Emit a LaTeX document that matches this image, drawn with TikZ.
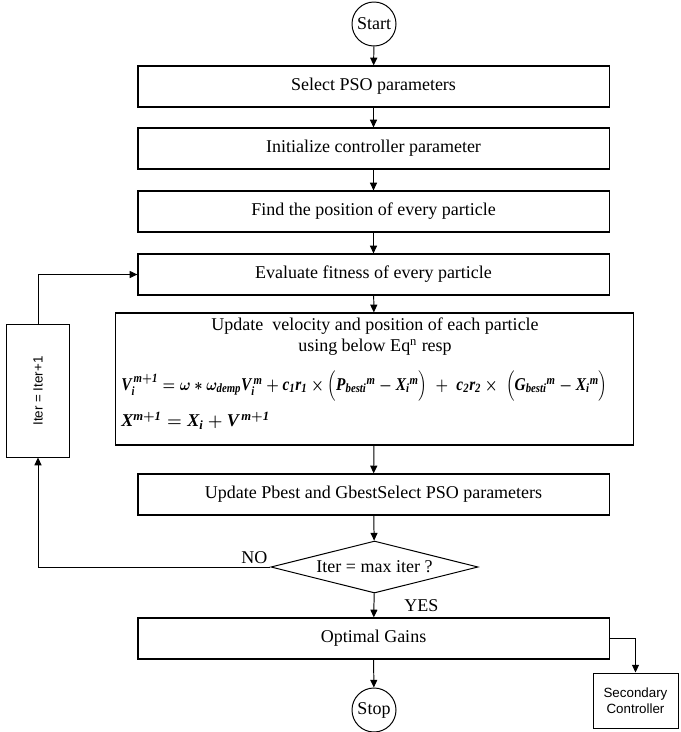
\documentclass[tikz,border=0pt]{standalone}
\usepackage{amsmath}
\usepackage{fontspec}
\setmainfont{Liberation Serif}
\newfontfamily\arialfont{Liberation Sans}
\newfontfamily\eqfamily{Liberation Serif}[NFSSFamily=libser]
\DeclareMathAlphabet{\mathbi}{TU}{libser}{bx}{it}
\usetikzlibrary{arrows.meta,shapes.geometric,calc}

\begin{document}
\begin{tikzpicture}[
    x=0.025cm, y=-0.025cm,
    font=\fontsize{12.8}{15}\selectfont,
    >={Triangle[length=5.5pt,width=5pt]},
    proc/.style={draw, line width=0.8pt, minimum width=11.775cm, minimum height=1.025cm, inner sep=2pt},
    term/.style={draw, circle, line width=0.7pt, minimum size=1.1cm, inner sep=0pt},
    dec/.style={draw, diamond, aspect=4, line width=0.7pt, minimum width=5.175cm, minimum height=1.3cm, inner sep=0pt},
    side/.style={draw, line width=0.7pt, font=\arialfont\fontsize{9.5}{11.5}\selectfont, align=center},
    flow/.style={->, line width=0.7pt}
  ]
  \useasboundingbox (0,0) rectangle (680,732);

  % Inicio y pasos principales
  \node[term] (start) at (374, 24) {Start};
  \node[proc] (sel)  at (373.5, 86.5)  {Select PSO parameters};
  \node[proc] (init) at (373.5, 148.5) {Initialize controller parameter};
  \node[proc] (find) at (373.5, 211.5) {Find the position of every particle};
  \node[proc] (eval) at (373.5, 274.5) {Evaluate fitness of every particle};

  % Bloque de actualizacion con ecuaciones
  \node[proc, minimum width=12.925cm, minimum height=3.3cm] (upd) at (374.5, 379) {};
  \node[align=center, inner sep=0pt] (updtxt) at (375, 337) {
    Update\ \ velocity and position of each particle\\
    using below Eq\textsuperscript{n} resp
  };
  \node[anchor=west, inner sep=0pt] (eqv) at (121, 386) {\resizebox{12.15cm}{\height}{\mbox{\boldmath$\mathbi{V}_{\mathbi{i}}^{\,\mathbi{m}+\mathbi{1}} = \omega * \omega_{\mathbi{demp}}\mathbi{V}_{\mathbi{i}}^{\,\mathbi{m}} + \mathbi{c}_{\mathbi{1}}\mathbi{r}_{\mathbi{1}} \times \Bigl(\mathbi{P}_{\mathbi{besti}}{}^{\mathbi{m}} - \mathbi{X}_{\mathbi{i}}{}^{\mathbi{m}}\Bigr) \;+\; \mathbi{c}_{\mathbi{2}}\mathbi{r}_{\mathbi{2}} \times \;\Bigl(\mathbi{G}_{\mathbi{besti}}{}^{\mathbi{m}} - \mathbi{X}_{\mathbi{i}}{}^{\mathbi{m}}\Bigr)$}}};
  \node[anchor=west, inner sep=0pt] (eqx) at (121, 421) {\mbox{\boldmath$\mathbi{X}^{\mathbi{m}+\mathbi{1}} = \mathbi{X}_{\mathbi{i}} + \mathbi{V}^{\,\mathbi{m}+\mathbi{1}}$}};

  \node[proc] (best) at (373.5, 494.5) {Update Pbest and GbestSelect PSO parameters};
  \node[dec] (chk) at (374.5, 567) {Iter = max iter ?};
  \node[proc] (gain) at (373.5, 638.5) {Optimal Gains};
  \node[term] (stop) at (374, 710) {Stop};

  % Cajas laterales
  \node[side, rotate=90, minimum width=3.3cm, minimum height=1.55cm] (iter) at (38, 391) {Iter = Iter+1};
  \node[side, minimum width=2.125cm, minimum height=1.375cm] (sec) at (635.5, 700.5) {Secondary\\ Controller};

  % Flechas
  \draw[flow] (start) -- (sel);
  \draw[flow] (sel) -- (init);
  \draw[flow] (init) -- (find);
  \draw[flow] (find) -- (eval);
  \draw[flow] (eval) -- (upd);
  \draw[flow] (upd) -- (best);
  \draw[flow] (best) -- (chk);
  \draw[flow] (chk) -- (gain);
  \draw[flow] (gain) -- (stop);
  \draw[flow] (chk.west) -| (iter);
  \draw[flow] (iter) |- (eval);
  \draw[flow] (gain.east) -| (sec);

  % Etiquetas de la decision
  \node[anchor=south east, inner sep=2pt] (nolbl) at (chk.west) {NO};
  \node[anchor=west, inner sep=0pt] (yeslbl) at (404, 606) {YES};
\end{tikzpicture}
\end{document}
